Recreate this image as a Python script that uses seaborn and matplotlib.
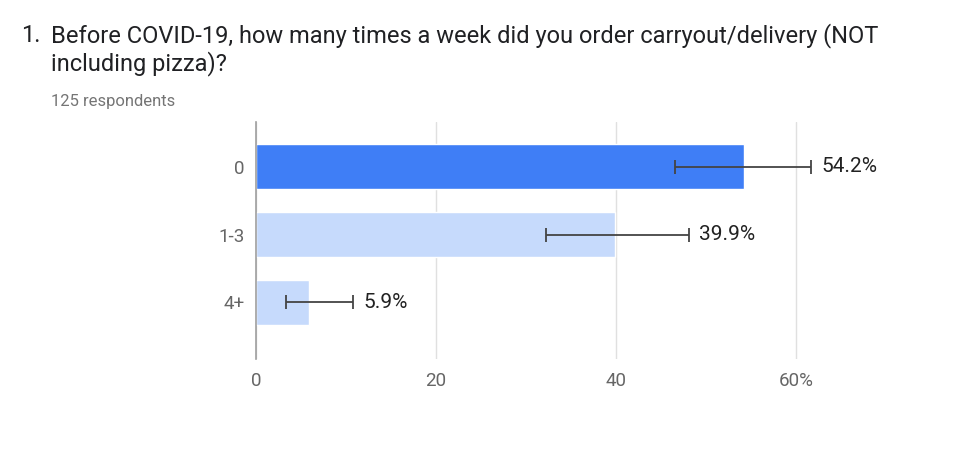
import matplotlib
matplotlib.use('Agg')
import matplotlib.pyplot as plt
import seaborn as sns
import pandas as pd

# values
answers = ['0', '1-3', '4+']
percents = [54.2, 39.9, 5.9]
ci_low = [46.6, 32.2, 3.3]
ci_high = [61.7, 48.1, 10.8]
xticks = [0, 20, 40, 60]
xtick_labels = ['0', '20', '40', '60%']

title_num = '1.'
title_lines = ['Before COVID-19, how many times a week did you order carryout/delivery (NOT',
               'including pizza)?']
subtitle = '125 respondents'

sns.set_style('white')
plt.rcParams['font.family'] = ['Roboto', 'DejaVu Sans']

df = pd.DataFrame({'answer': answers, 'pct': percents})
colors = ['#3f7ef6', '#c6dafc', '#c6dafc']

fig = plt.figure(figsize=(9.74, 4.58), dpi=100)
ax = fig.add_axes([256 / 974, 1 - 359 / 458, 558 / 974, 237 / 458])

sns.barplot(data=df, x='pct', y='answer', hue='answer', palette=colors,
            saturation=1, width=0.663, legend=False, ax=ax, zorder=2)

xerr = [[p - lo for p, lo in zip(percents, ci_low)],
        [hi - p for p, hi in zip(percents, ci_high)]]
ax.errorbar(percents, range(len(answers)), xerr=xerr, fmt='none',
            ecolor='#444444', elinewidth=1.3, capsize=4.7, capthick=1.3, zorder=3)

for i, (hi, p) in enumerate(zip(ci_high, percents)):
    ax.annotate(f'{p}%', xy=(hi, i), xytext=(7.5, 0), textcoords='offset points',
                va='center', ha='left', fontsize=15, color='#222222',
                annotation_clip=False)

ax.set_xlim(0, 62)
ax.set_ylim(2.833, -0.66)
ax.set_xticks(xticks)
ax.set_xticklabels(xtick_labels)
ax.set_xlabel('')
ax.set_ylabel('')
ax.tick_params(axis='both', length=0, labelsize=13.5, labelcolor='#666666')
ax.tick_params(axis='x', pad=9)
ax.tick_params(axis='y', pad=8)
ax.grid(axis='x', color='#e0e0e0', linewidth=1, zorder=0)
ax.set_axisbelow(True)
for s in ['top', 'right', 'bottom']:
    ax.spines[s].set_visible(False)
ax.spines['left'].set_color('#9e9e9e')
ax.spines['left'].set_linewidth(1.2)
ax.spines['left'].set_zorder(4)

fig.text(21 / 974, 1 - 42.3 / 458, title_num, fontsize=17, color='#202124', va='baseline')
fig.text(50.7 / 974, 1 - 42.3 / 458, title_lines[0], fontsize=17, color='#202124', va='baseline')
fig.text(50.7 / 974, 1 - 70.5 / 458, title_lines[1], fontsize=17, color='#202124', va='baseline')
fig.text(50.7 / 974, 1 - 105.7 / 458, subtitle, fontsize=12, color='#757575', va='baseline')

fig.savefig('out.png', dpi=100)
